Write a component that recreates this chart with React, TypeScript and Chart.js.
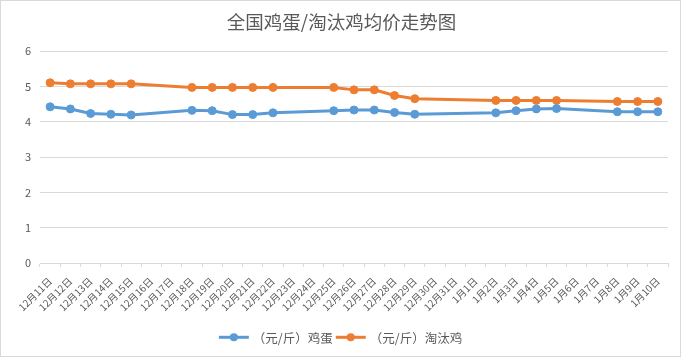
import React, { useEffect, useRef } from "react";
import { Chart, registerables } from "chart.js";

Chart.register(...registerables);

const categories = [
  "12月11日", "12月12日", "12月13日", "12月14日", "12月15日", "12月16日", "12月17日",
  "12月18日", "12月19日", "12月20日", "12月21日", "12月22日", "12月23日", "12月24日",
  "12月25日", "12月26日", "12月27日", "12月28日", "12月29日", "12月30日", "12月31日",
  "1月1日", "1月2日", "1月3日", "1月4日", "1月5日", "1月6日", "1月7日", "1月8日",
  "1月9日", "1月10日",
];

const eggPrices: (number | null)[] = [
  4.42, 4.36, 4.23, 4.21, 4.19, null, null,
  4.32, 4.31, 4.20, 4.20, 4.25, null, null,
  4.31, 4.33, 4.33, 4.26, 4.21, null, null,
  null, 4.25, 4.31, 4.36, 4.37, null, null, 4.28,
  4.28, 4.28,
];

const henPrices: (number | null)[] = [
  5.10, 5.07, 5.07, 5.07, 5.07, null, null,
  4.97, 4.97, 4.97, 4.97, 4.97, null, null,
  4.97, 4.90, 4.90, 4.74, 4.65, null, null,
  null, 4.60, 4.60, 4.60, 4.60, null, null, 4.57,
  4.57, 4.57,
];

const yTicks = [0, 1, 2, 3, 4, 5, 6];
const titleText = "全国鸡蛋/淘汰鸡均价走势图";
const seriesNames = ["（元/斤）鸡蛋", "（元/斤）淘汰鸡"];
const seriesColors = ["#5B9BD5", "#ED7D31"];

const FONT = '"Noto Sans CJK SC", "Noto Sans", sans-serif';
const TEXT = "#595959";
const GRID = "#d9d9d9";

export default function App() {
  const ref = useRef<HTMLCanvasElement | null>(null);

  useEffect(() => {
    document.body.style.margin = "0";
    const canvas = ref.current;
    if (!canvas) return;

    const decorPlugin = {
      id: "decor",
      afterDraw(chart: any) {
        const ctx = chart.ctx as CanvasRenderingContext2D;
        ctx.save();
        // title
        ctx.font = `18.5px ${FONT}`;
        ctx.fillStyle = TEXT;
        ctx.textAlign = "center";
        ctx.textBaseline = "middle";
        ctx.fillText(titleText, chart.width / 2 + 1, 20.5);

        // legend
        ctx.font = `12.5px ${FONT}`;
        ctx.textAlign = "left";
        const lineW = 30;
        const gapText = 4;
        const gapItem = 3;
        const items = chart.data.datasets.map((ds: any) => ({
          label: ds.label as string,
          color: ds.borderColor as string,
          w: ctx.measureText(ds.label).width,
        }));
        const total = items.reduce((s: number, it: any) => s + lineW + gapText + it.w, 0) + gapItem * (items.length - 1);
        let x = chart.width / 2 - total / 2;
        const y = 336.3;
        items.forEach((it: any) => {
          ctx.strokeStyle = it.color;
          ctx.lineWidth = 3;
          ctx.beginPath();
          ctx.moveTo(x, y);
          ctx.lineTo(x + lineW, y);
          ctx.stroke();
          ctx.fillStyle = it.color;
          ctx.beginPath();
          ctx.arc(x + lineW / 2, y, 4, 0, Math.PI * 2);
          ctx.fill();
          ctx.fillStyle = TEXT;
          ctx.fillText(it.label, x + lineW + gapText, y + 0.5);
          x += lineW + gapText + it.w + gapItem;
        });
        ctx.restore();
      },
    };

    const chart = new Chart(canvas, {
      type: "line",
      data: {
        labels: categories,
        datasets: [eggPrices, henPrices].map((d, i) => ({
          label: seriesNames[i],
          data: d,
          borderColor: seriesColors[i],
          backgroundColor: seriesColors[i],
          pointBackgroundColor: seriesColors[i],
          pointBorderColor: seriesColors[i],
          borderWidth: 3,
          pointRadius: 4,
          pointBorderWidth: 1,
          spanGaps: true,
          tension: 0,
        })),
      },
      options: {
        responsive: false,
        animation: false,
        layout: { padding: { top: 50, right: 12, bottom: 41, left: 0 } },
        plugins: {
          title: { display: false },
          tooltip: { enabled: false },
          legend: { display: false },
        },
        scales: {
          x: {
            type: "category",
            offset: true,
            afterFit(scale: any) {
              scale.height = 52;
            },
            grid: {
              offset: true,
              drawOnChartArea: false,
              drawTicks: true,
              tickLength: 4,
              color: GRID,
            },
            border: { display: true, color: GRID },
            ticks: {
              autoSkip: false,
              minRotation: 45,
              maxRotation: 45,
              color: TEXT,
              font: { family: FONT, size: 10 },
              padding: 8,
            },
          },
          y: {
            min: 0,
            max: 6,
            afterFit(scale: any) {
              scale.width = 39;
            },
            afterBuildTicks(scale: any) {
              scale.ticks = yTicks.map((v) => ({ value: v }));
            },
            grid: { color: GRID, drawTicks: false },
            border: { display: false },
            ticks: {
              stepSize: 1,
              color: TEXT,
              padding: 9,
              font: { family: FONT, size: 11 },
            },
          },
        },
      },
      plugins: [decorPlugin],
    } as any);

    return () => chart.destroy();
  }, []);

  return (
    <div
      style={{
        position: "absolute",
        left: 0,
        top: 0,
        width: 681,
        height: 357,
        border: `1px solid ${GRID}`,
        boxSizing: "border-box",
        background: "#fff",
      }}
    >
      <canvas ref={ref} width={679} height={355} style={{ display: "block" }} />
    </div>
  );
}
